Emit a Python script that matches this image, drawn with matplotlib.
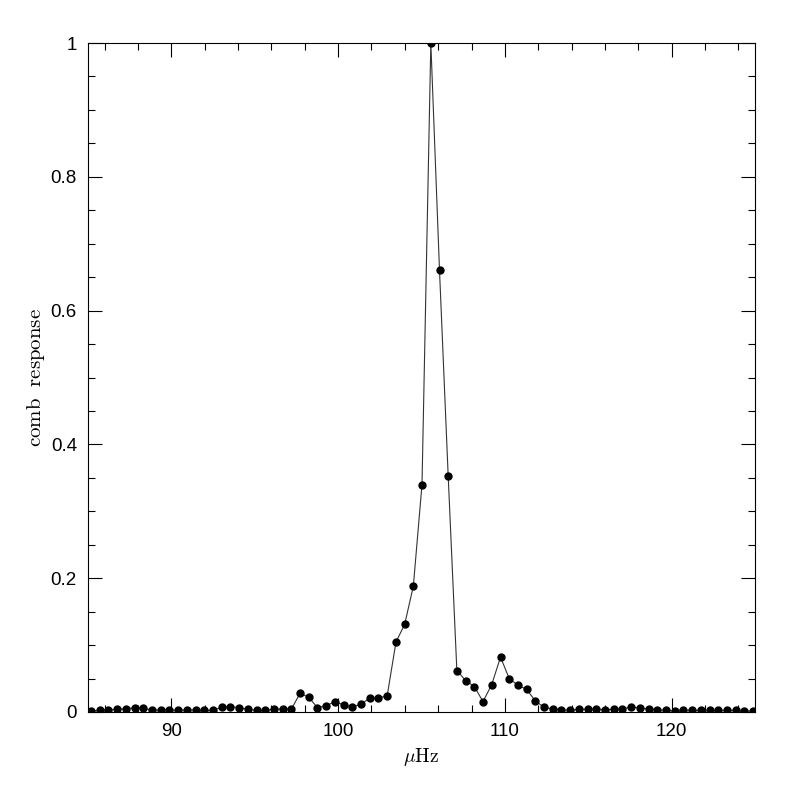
import matplotlib
matplotlib.use("Agg")
import matplotlib.pyplot as plt
from matplotlib.ticker import MultipleLocator

freq = [85.18, 85.70, 86.22, 86.75, 87.27, 87.79, 88.31, 88.84, 89.36, 89.88,
        90.40, 90.93, 91.45, 91.97, 92.49, 93.02, 93.54, 94.06, 94.58, 95.11,
        95.63, 96.15, 96.67, 97.20, 97.72, 98.24, 98.76, 99.29, 99.81, 100.33,
        100.85, 101.38, 101.90, 102.42, 102.94, 103.47, 103.99, 104.51, 105.03, 105.56,
        106.08, 106.60, 107.12, 107.65, 108.17, 108.69, 109.21, 109.74, 110.26, 110.78,
        111.30, 111.83, 112.35, 112.87, 113.39, 113.92, 114.44, 114.96, 115.48, 116.01,
        116.53, 117.05, 117.57, 118.10, 118.62, 119.14, 119.66, 120.19, 120.71, 121.23,
        121.75, 122.28, 122.80, 123.32, 123.84, 124.37, 124.89]
response = [0.0015, 0.0025, 0.0025, 0.0045, 0.0045, 0.0065, 0.0055, 0.003, 0.003, 0.003,
            0.003, 0.003, 0.003, 0.0025, 0.0025, 0.007, 0.008, 0.0065, 0.004, 0.0025,
            0.0025, 0.004, 0.0045, 0.0045, 0.028, 0.022, 0.0065, 0.0095, 0.0155, 0.0105,
            0.008, 0.0115, 0.021, 0.021, 0.024, 0.1046, 0.131, 0.188, 0.340, 1.0,
            0.660, 0.353, 0.062, 0.047, 0.038, 0.0155, 0.041, 0.082, 0.050, 0.040,
            0.034, 0.0165, 0.007, 0.0045, 0.0035, 0.0025, 0.004, 0.004, 0.004, 0.0035,
            0.004, 0.0045, 0.0075, 0.006, 0.0045, 0.0035, 0.0025, 0.0015, 0.0025, 0.0025,
            0.0025, 0.0025, 0.0025, 0.0025, 0.0025, 0.0015, 0.0015]

xticks = [90, 100, 110, 120]
yticks = [0, 0.2, 0.4, 0.6, 0.8, 1.0]
yticklabels = ["0", "0.2", "0.4", "0.6", "0.8", "1"]

plt.rcParams['mathtext.fontset'] = 'cm'
tickfont = ['Liberation Sans Narrow', 'Liberation Sans', 'DejaVu Sans']

fig = plt.figure(figsize=(7.97, 7.97), dpi=100)
ax = fig.add_axes([88/797, 1-712/797, (755-88)/797, (712-43)/797])

ax.plot(freq, response, '-', color='#333333', lw=0.8, zorder=2)
ax.plot(freq, response, 'o', color='black', ms=5.0, zorder=3)

ax.set_xlim(85, 125)
ax.set_ylim(0, 1)
ax.set_xticks(xticks)
ax.set_xticklabels([str(t) for t in xticks])
ax.set_yticks(yticks)
ax.set_yticklabels(yticklabels)
ax.xaxis.set_minor_locator(MultipleLocator(2))
ax.yaxis.set_minor_locator(MultipleLocator(0.05))

ax.tick_params(which='both', direction='in', top=True, right=True, width=0.8, color='black')
ax.tick_params(which='major', length=10, pad=8)
ax.tick_params(which='minor', length=5)
for lab in ax.get_xticklabels() + ax.get_yticklabels():
    lab.set_family(tickfont)
    lab.set_fontsize(13.5)
for s in ax.spines.values():
    s.set_linewidth(0.8)

ax.set_xlabel(r'$\mu\mathrm{Hz}$', fontsize=14, labelpad=4)
ax.set_ylabel(r'$\mathrm{comb\ \ response}$', fontsize=15)
ax.yaxis.set_label_coords(-0.062, 0.5)

fig.savefig('out.png', dpi=100)
